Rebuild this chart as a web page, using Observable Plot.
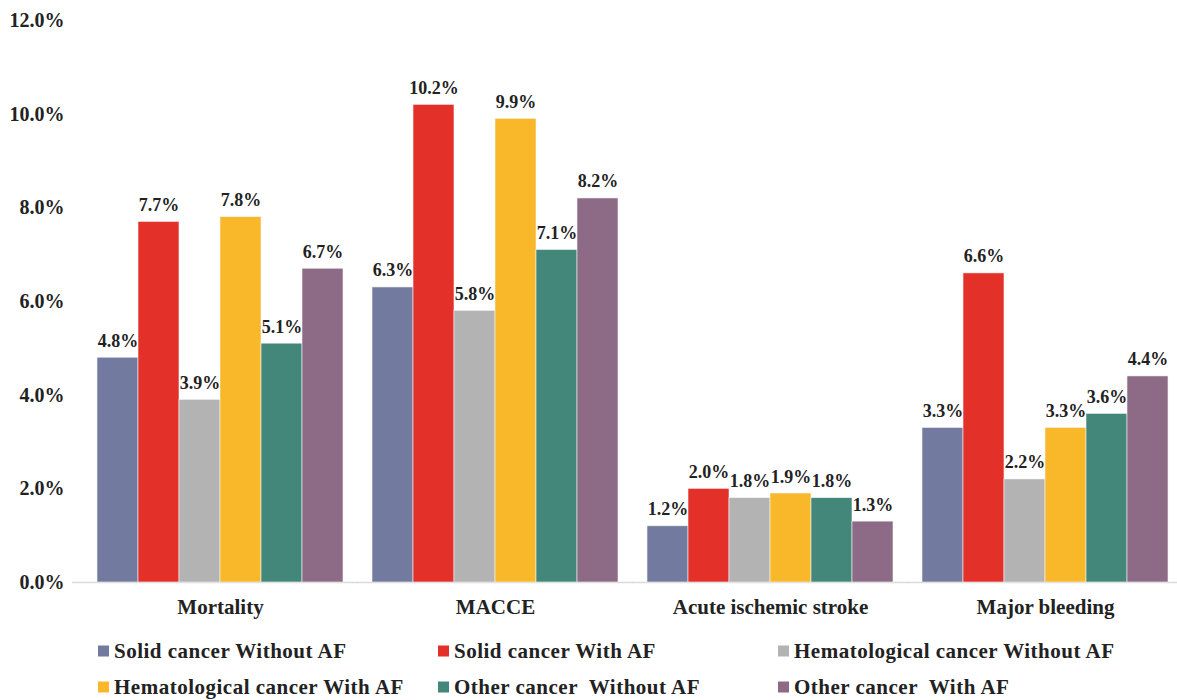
<!DOCTYPE html>
<html>
<head>
<meta charset="utf-8">
<script src="https://cdn.jsdelivr.net/npm/d3@7"></script>
<script src="https://cdn.jsdelivr.net/npm/@observablehq/plot@0.6"></script>
<style>
  html, body { margin: 0; padding: 0; background: #fff; }
  #wrap { position: relative; width: 1177px; height: 700px; font-family: 'Liberation Serif', serif; font-weight: bold; color: #222; }
  #legend { position: absolute; left: 0; top: 0; width: 1177px; height: 700px; pointer-events: none; }
  .item { position: absolute; display: flex; align-items: center; font-family: 'Liberation Serif', serif; font-weight: bold; font-size: 21px; letter-spacing: 0.5px; white-space: pre; transform: translateY(-50%); }
  .sw { width: 11px; height: 11px; margin-right: 5px; }
  svg text { font-family: 'Liberation Serif', serif; font-weight: bold; }
</style>
</head>
<body>
<div id="wrap"><div id="chart"></div><div id="legend"></div></div>
<script>
const categories = ["Mortality", "MACCE", "Acute ischemic stroke", "Major bleeding"];
const seriesNames = [
  "Solid cancer Without AF",
  "Solid cancer With AF",
  "Hematological cancer Without AF",
  "Hematological cancer With AF",
  "Other cancer  Without AF",
  "Other cancer  With AF"
];
const seriesColors = ["#737AA0", "#E3312A", "#B3B3B3", "#F8B829", "#43867A", "#8D6B87"];
const solidWithout = [4.8, 6.3, 1.2, 3.3];
const solidWith = [7.7, 10.2, 2.0, 6.6];
const hemaWithout = [3.9, 5.8, 1.8, 2.2];
const hemaWith = [7.8, 9.9, 1.9, 3.3];
const otherWithout = [5.1, 7.1, 1.8, 3.6];
const otherWith = [6.7, 8.2, 1.3, 4.4];
const yTicks = [0, 2, 4, 6, 8, 10, 12];

const seriesValues = [solidWithout, solidWith, hemaWithout, hemaWith, otherWithout, otherWith];
const data = [];
categories.forEach((c, i) => {
  seriesNames.forEach((s, j) => {
    data.push({category: c, series: s, value: seriesValues[j][i]});
  });
});
const baseFirst = [{category: categories[0], y: 0}];
const baseRest = categories.slice(1).map(c => ({category: c, y: 0}));

const font = "'Liberation Serif', serif";

const chart = Plot.plot({
  width: 1177,
  height: 630,
  marginTop: 20,
  marginBottom: 48,
  marginLeft: 82,
  marginRight: -6,
  style: {fontFamily: font, fontWeight: "bold", color: "#222", background: "#fff", overflow: "visible"},
  fx: {domain: categories, paddingInner: 0.106, paddingOuter: 0.054, label: null, axis: "bottom", tickSize: 0, tickPadding: 17},
  x: {domain: seriesNames, padding: 0, axis: null},
  y: {domain: [0, 12], ticks: yTicks, tickFormat: d => d.toFixed(1) + "%", label: null, tickSize: 0, tickPadding: 33},
  color: {domain: seriesNames, range: seriesColors},
  marks: [
    Plot.ruleY(baseFirst, {fx: "category", y: "y", stroke: "#d9d9d9", strokeWidth: 1.5, insetLeft: -25, insetRight: -15}),
    Plot.ruleY(baseRest, {fx: "category", y: "y", stroke: "#d9d9d9", strokeWidth: 1.5, insetLeft: -15, insetRight: -15}),
    Plot.barY(data, {fx: "category", x: "series", y: "value", fill: "series", stroke: "#f4f4f4", strokeWidth: 0.6}),
    Plot.text(data, {fx: "category", x: "series", y: "value", text: d => d.value.toFixed(1) + "%", lineAnchor: "bottom", dy: -11, fontSize: 18, fontWeight: "bold", fill: "#222", fontFamily: font})
  ]
});
document.getElementById("chart").appendChild(chart);

chart.querySelectorAll("text").forEach(el => el.setAttribute("font-family", "Liberation Serif"));
chart.querySelectorAll("g[aria-label='y-axis tick label']").forEach(el => el.setAttribute("font-size", "20"));
chart.querySelectorAll("g[aria-label='fx-axis tick label']").forEach(el => el.setAttribute("font-size", "21"));

const legend = document.getElementById("legend");
const colX = [98, 438, 778];
const rowY = [651, 687];
seriesNames.forEach((s, i) => {
  const item = document.createElement("div");
  item.className = "item";
  item.style.left = colX[i % 3] + "px";
  item.style.top = rowY[Math.floor(i / 3)] + "px";
  const sw = document.createElement("span");
  sw.className = "sw";
  sw.style.background = seriesColors[i];
  const t = document.createElement("span");
  t.textContent = s;
  item.appendChild(sw);
  item.appendChild(t);
  legend.appendChild(item);
});
</script>
</body>
</html>
